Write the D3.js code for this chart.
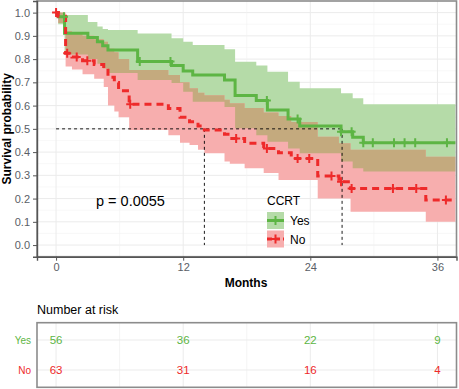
<!DOCTYPE html>
<html>
<head>
<meta charset="utf-8">
<script src="https://cdn.jsdelivr.net/npm/d3@7"></script>
<style>
  body { margin: 0; background: #fff; }
  svg { display: block; font-family: "Liberation Sans", Arial, sans-serif; }
</style>
</head>
<body>
<svg id="chart"></svg>
<script>
var width = 459;
var height = 389;

// Yes (CCRT) strata: step times, survival and CI
var yesTime  = [0, 0.2, 0.8, 3.0, 3.9, 4.4, 4.9, 7.7, 10.9, 12.0, 12.9, 15.9, 16.9, 18.9, 19.95, 21.9, 23.0, 26.9, 28.0, 29.0];
var yesSurv  = [1, 0.982, 0.911, 0.893, 0.875, 0.857, 0.839, 0.79, 0.772, 0.749, 0.732, 0.710, 0.643, 0.622, 0.581, 0.542, 0.512, 0.488, 0.464, 0.44];
var yesUpper = [1, 1.0, 0.99, 0.96, 0.94, 0.93, 0.925, 0.91, 0.89, 0.875, 0.861, 0.842, 0.789, 0.772, 0.746, 0.703, 0.675, 0.653, 0.632, 0.606];
var yesLower = [1, 0.95, 0.82, 0.80, 0.78, 0.76, 0.74, 0.71, 0.697, 0.66, 0.617, 0.594, 0.503, 0.473, 0.445, 0.416, 0.395, 0.36, 0.33, 0.316];
var yesCensor = [0.75, 7.9, 10.8, 19.9, 22.8, 26.9, 27.9, 29.0, 29.9, 31.9, 32.9, 33.9, 36.9];

// No strata
var noTime  = [0, 0.2, 0.9, 1.5, 2.5, 3.6, 4.5, 4.9, 5.5, 5.9, 6.9, 10.6, 11.7, 12.6, 13.4, 14.0, 15.9, 16.4, 17.8, 19.6, 21.0, 22.2, 24.7, 26.7, 27.8, 34.9];
var noSurv  = [1, 0.984, 0.825, 0.809, 0.793, 0.777, 0.76, 0.722, 0.699, 0.664, 0.606, 0.588, 0.55, 0.531, 0.512, 0.495, 0.477, 0.459, 0.438, 0.416, 0.397, 0.372, 0.297, 0.272, 0.243, 0.194];
var noUpper = [1, 1.0, 0.92, 0.91, 0.90, 0.885, 0.875, 0.845, 0.83, 0.80, 0.753, 0.732, 0.70, 0.675, 0.655, 0.645, 0.625, 0.61, 0.59, 0.57, 0.555, 0.53, 0.466, 0.438, 0.41, 0.38];
var noLower = [1, 0.955, 0.768, 0.755, 0.735, 0.715, 0.68, 0.60, 0.575, 0.55, 0.495, 0.473, 0.44, 0.43, 0.41, 0.395, 0.36, 0.35, 0.33, 0.31, 0.28, 0.28, 0.20, 0.20, 0.143, 0.10];
var noCensor = [0, 1.05, 1.95, 2.95, 7.0, 17.0, 19.9, 22.8, 23.9, 26.0, 26.9, 27.9, 31.8, 34.0, 36.8];

var maxTime = 37.7;
var medianTimes = [14.0, 27.0];

var xTicks = [0, 12, 24, 36];
var xMinor = [6, 18, 30];
var yTicks = [0, 0.1, 0.2, 0.3, 0.4, 0.5, 0.6, 0.7, 0.8, 0.9, 1.0];

var riskTimes = [0, 12, 24, 36];
var riskYes = [56, 36, 22, 9];
var riskNo = [63, 31, 16, 4];

var greenLine = "#5DB544", redLine = "#EE2A2A";
var greenFill = "#B5DBA8", redFill = "#F7AEAE", bothFill = "#C4AA7E";

const svg = d3.select('#chart')
    .attr('width', width)
    .attr('height', height);

const panel = { left: 37, right: 456.5, top: 1, bottom: 256.7 };

const x = d3.scaleLinear().domain([-1.8, 37.8]).range([panel.left, panel.right]);
const y = d3.scaleLinear().domain([-0.05, 1.05]).range([panel.bottom, panel.top]);

// grid
const grid = svg.append("g");
d3.range(-0.05, 1.06, 0.05).forEach(function(v) {
    var isMajor = Math.abs(Math.round(v * 10) - v * 10) < 1e-6;
    grid.append("line")
        .attr("x1", panel.left).attr("x2", panel.right)
        .attr("y1", y(v)).attr("y2", y(v))
        .attr("stroke", isMajor ? "#EBEBEB" : "#F4F4F4")
        .attr("stroke-width", isMajor ? 1 : 0.6);
});
xTicks.concat(xMinor).forEach(function(t) {
    grid.append("line")
        .attr("x1", x(t)).attr("x2", x(t))
        .attr("y1", panel.top).attr("y2", panel.bottom)
        .attr("stroke", xMinor.indexOf(t) >= 0 ? "#F4F4F4" : "#EBEBEB")
        .attr("stroke-width", xMinor.indexOf(t) >= 0 ? 0.6 : 1);
});

function toRows(time, surv, up, lo) {
    var rows = time.map(function(t, i) { return { t: t, s: surv[i], u: up[i], l: lo[i] }; });
    var last = rows[rows.length - 1];
    rows.push({ t: maxTime, s: last.s, u: last.u, l: last.l });
    return rows;
}
var yesRows = toRows(yesTime, yesSurv, yesUpper, yesLower);
var noRows = toRows(noTime, noSurv, noUpper, noLower);

const area = d3.area()
    .curve(d3.curveStepAfter)
    .x(d => x(d.t)).y0(d => y(d.l)).y1(d => y(d.u));
const line = d3.line()
    .curve(d3.curveStepAfter)
    .x(d => x(d.t)).y(d => y(d.s));

const defs = svg.append("defs");
defs.append("clipPath").attr("id", "yesBand")
    .append("path").attr("d", area(yesRows));

svg.append("path").attr("d", area(yesRows)).attr("fill", greenFill);
svg.append("path").attr("d", area(noRows)).attr("fill", redFill);
svg.append("path").attr("d", area(noRows)).attr("fill", bothFill).attr("clip-path", "url(#yesBand)");

// median lines
svg.append("line")
    .attr("x1", x(0)).attr("x2", x(medianTimes[1]))
    .attr("y1", y(0.5)).attr("y2", y(0.5))
    .attr("stroke", "#000").attr("stroke-width", 0.9).attr("stroke-dasharray", "3,3");
medianTimes.forEach(function(t) {
    svg.append("line")
        .attr("x1", x(t)).attr("x2", x(t))
        .attr("y1", y(0.5)).attr("y2", y(0))
        .attr("stroke", "#000").attr("stroke-width", 0.9).attr("stroke-dasharray", "3,3");
});

svg.append("path").attr("d", line(yesRows))
    .attr("fill", "none").attr("stroke", greenLine).attr("stroke-width", 3);
svg.append("path").attr("d", line(noRows))
    .attr("fill", "none").attr("stroke", redLine).attr("stroke-width", 3)
    .attr("stroke-dasharray", "7,5");

function survAt(time, surv, t) {
    var s = surv[0];
    for (var i = 0; i < time.length; i++) { if (time[i] <= t) s = surv[i]; }
    return s;
}
var plus = "M-4,0H4M0,-4.5V4.5";
svg.append("g").selectAll("path").data(yesCensor).join("path")
    .attr("d", plus)
    .attr("transform", d => `translate(${x(d)},${y(survAt(yesTime, yesSurv, d))})`)
    .attr("stroke", greenLine).attr("stroke-width", 2).attr("fill", "none");
svg.append("g").selectAll("path").data(noCensor).join("path")
    .attr("d", plus)
    .attr("transform", d => `translate(${x(d)},${y(survAt(noTime, noSurv, d))})`)
    .attr("stroke", redLine).attr("stroke-width", 2).attr("fill", "none");

// panel border + axes
svg.append("rect")
    .attr("x", panel.left).attr("y", panel.top)
    .attr("width", panel.right - panel.left).attr("height", panel.bottom - panel.top)
    .attr("fill", "none").attr("stroke", "#8C8C8C").attr("stroke-width", 1.6);

const xAxis = svg.append("g")
    .attr("transform", `translate(0,${panel.bottom})`)
    .call(d3.axisBottom(x).tickValues(xTicks).tickSize(4).tickPadding(3));
const yAxis = svg.append("g")
    .attr("transform", `translate(${panel.left},0)`)
    .call(d3.axisLeft(y).tickValues(yTicks).tickFormat(d3.format(".1f")).tickSize(4).tickPadding(3));
[xAxis, yAxis].forEach(function(a) {
    a.select(".domain").attr("stroke", "#555").attr("stroke-width", 1.4);
    a.selectAll(".tick line").attr("stroke", "#555");
    a.selectAll(".tick text").attr("fill", "#5A5E66").style("font-size", "11px")
        .style("font-family", "Liberation Sans, Arial, sans-serif");
});

svg.append("text")
    .attr("transform", `translate(11,${(panel.top + panel.bottom) / 2}) rotate(-90)`)
    .attr("text-anchor", "middle")
    .style("font-size", "12px").style("font-weight", "bold")
    .text("Survival probability");
svg.append("text")
    .attr("x", 246).attr("y", 287)
    .attr("text-anchor", "middle")
    .style("font-size", "12px").style("font-weight", "bold")
    .text("Months");

svg.append("text")
    .attr("x", 96).attr("y", 206)
    .style("font-size", "14.5px")
    .text("p = 0.0055");

// legend
const legend = svg.append("g").attr("transform", "translate(267,0)");
legend.append("text").attr("x", 0).attr("y", 205).style("font-size", "12px").text("CCRT");
[["Yes", greenFill, greenLine, null, 212], ["No", redFill, redLine, "5,3", 230.5]].forEach(function(k) {
    var g = legend.append("g").attr("transform", `translate(0,${k[4]})`);
    g.append("rect").attr("width", 17).attr("height", 17).attr("fill", k[1]);
    g.append("line").attr("x1", 0).attr("x2", 17).attr("y1", 8.5).attr("y2", 8.5)
        .attr("stroke", k[2]).attr("stroke-width", 3).attr("stroke-dasharray", k[3]);
    g.append("path").attr("d", plus).attr("transform", "translate(8.5,8.5)")
        .attr("stroke", k[2]).attr("stroke-width", 2).attr("fill", "none");
    g.append("text").attr("x", 23).attr("y", 13).style("font-size", "12px").text(k[0]);
});

// risk table
const tbl = { top: 322.7, bottom: 387.3 };
svg.append("text").attr("x", 37).attr("y", 313.5).style("font-size", "12.5px").text("Number at risk");
var rowY = { Yes: 340, No: 370 };
xTicks.concat(xMinor).forEach(function(t) {
    svg.append("line").attr("x1", x(t)).attr("x2", x(t))
        .attr("y1", tbl.top).attr("y2", tbl.bottom)
        .attr("stroke", xMinor.indexOf(t) >= 0 ? "#F4F4F4" : "#EBEBEB");
});
[rowY.Yes, rowY.No].forEach(function(v) {
    svg.append("line").attr("x1", panel.left).attr("x2", panel.right)
        .attr("y1", v).attr("y2", v).attr("stroke", "#EBEBEB");
});
svg.append("rect")
    .attr("x", panel.left).attr("y", tbl.top)
    .attr("width", panel.right - panel.left).attr("height", tbl.bottom - tbl.top)
    .attr("fill", "none").attr("stroke", "#8C8C8C").attr("stroke-width", 1.6);

[["Yes", riskYes, greenLine], ["No", riskNo, redLine]].forEach(function(r) {
    svg.append("text").attr("x", 31).attr("y", rowY[r[0]] + 3.5)
        .attr("text-anchor", "end").attr("fill", r[2])
        .style("font-size", "10px").text(r[0]);
    svg.append("g").selectAll("text").data(r[1]).join("text")
        .attr("x", (d, i) => x(riskTimes[i]))
        .attr("y", rowY[r[0]] + 4)
        .attr("text-anchor", "middle")
        .attr("fill", r[2])
        .style("font-size", "11.5px")
        .text(d => d);
});
</script>
</body>
</html>
